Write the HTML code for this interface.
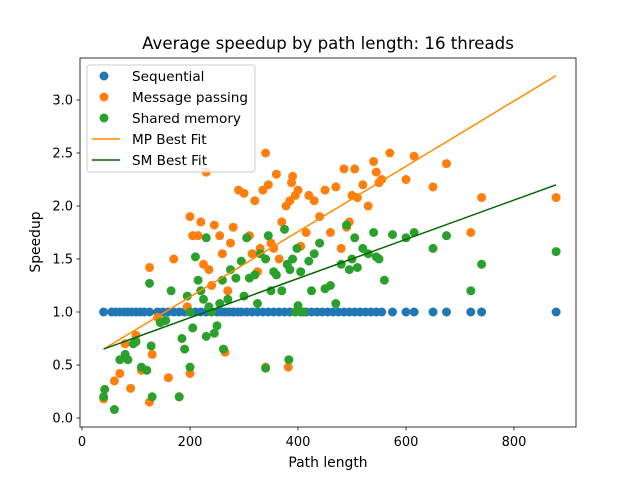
<!DOCTYPE html>
<html><head><meta charset="utf-8"><style>
body{margin:0;background:#fff;}
svg text{font-family:"DejaVu Sans","Liberation Sans",sans-serif;fill:#000;}
</style></head><body>
<svg id="chart" width="640" height="480" viewBox="0 0 640 480" xmlns="http://www.w3.org/2000/svg">
<rect width="640" height="480" fill="#fff"/>
<text x="328" y="49" font-size="16.6" text-anchor="middle">Average speedup by path length: 16 threads</text>
<g id="plot"></g>
<rect x="80" y="58" width="496" height="369" fill="none" stroke="#000" stroke-width="0.8"/>
<text x="328" y="467" font-size="13.9" text-anchor="middle">Path length</text>
<text x="0" y="0" font-size="13.9" text-anchor="middle" transform="translate(40,242) rotate(-90)">Speedup</text>
<g>
<rect x="87" y="65" width="168" height="107" rx="3" fill="#fff" fill-opacity="0.8" stroke="#ccc"/>
<circle cx="104" cy="76" r="4.5" fill="#1f77b4"/>
<text x="132" y="81" font-size="13.6">Sequential</text>
<circle cx="104" cy="97" r="4.5" fill="#ff7f0e"/>
<text x="132" y="102" font-size="13.6">Message passing</text>
<circle cx="104" cy="118" r="4.5" fill="#2ca02c"/>
<text x="132" y="123" font-size="13.6">Shared memory</text>
<line x1="92" y1="139" x2="120" y2="139" stroke="#ff8c00" stroke-width="1.5"/>
<text x="132" y="144" font-size="13.6">MP Best Fit</text>
<line x1="92" y1="160" x2="120" y2="160" stroke="#006400" stroke-width="1.5"/>
<text x="132" y="165" font-size="13.6">SM Best Fit</text>
</g>
</svg>
<script>
const xTicks=[0,200,400,600,800];
const yTicks=[0.0,0.5,1.0,1.5,2.0,2.5,3.0];
const seqX=[40,55,62,70,78,85,92,100,108,115,125,140,150,160,170,180,190,200,210,220,230,240,250,258,265,272,280,288,295,305,315,325,335,345,355,365,375,385,395,405,415,425,435,445,455,465,475,485,495,505,515,525,535,545,555,575,600,615,650,675,720,740,878];
const seqY=seqX.map(()=>1.0);
const mpX=[40,60,70,80,90,100,110,125,125,130,140,160,170,180,195,200,200,205,215,220,225,230,235,240,245,255,260,265,270,275,280,290,300,310,315,320,325,330,335,340,340,345,350,355,360,365,370,378,382,385,388,390,395,400,405,415,420,430,440,450,460,470,480,485,490,495,500,505,510,520,530,540,545,550,555,570,600,615,650,675,720,740,878];
const mpY=[0.18,0.35,0.42,0.7,0.28,0.78,0.45,1.42,0.15,0.6,0.95,0.38,1.5,0.2,1.05,0.42,1.9,1.72,1.72,1.85,1.45,2.32,1.4,1.25,1.82,1.72,1.55,0.62,1.2,1.65,1.8,2.15,2.12,1.72,1.55,2.05,1.38,1.6,2.15,2.5,0.48,2.2,1.65,1.6,2.3,1.5,1.85,2.0,0.48,2.05,2.22,2.28,2.1,2.15,1.62,1.75,2.1,2.05,1.9,2.15,1.75,2.18,1.6,2.35,1.8,1.85,2.1,2.35,2.08,2.2,2.0,2.42,2.32,2.22,2.25,2.5,2.25,2.47,2.18,2.4,1.75,2.08,2.08];
const smX=[40,42,60,70,80,85,95,100,110,120,125,128,130,145,155,165,180,185,190,195,200,200,205,210,215,220,225,230,230,235,240,245,250,255,260,262,270,275,285,295,300,305,310,320,325,330,340,340,345,350,355,360,370,375,380,383,385,390,395,398,400,405,410,420,425,430,440,450,460,470,480,490,495,500,505,510,520,530,540,545,550,560,575,600,615,650,675,720,740,878];
const smY=[0.2,0.27,0.08,0.55,0.6,0.55,0.7,0.72,0.48,0.45,1.27,0.68,0.2,0.9,0.92,1.2,0.2,0.75,0.65,1.15,1.0,0.48,0.85,1.52,1.3,1.2,1.12,0.77,1.7,1.05,1.0,0.8,0.87,1.08,1.3,0.65,1.12,1.4,1.32,1.48,1.15,1.7,1.32,1.35,1.08,1.55,1.5,0.47,1.72,1.2,1.38,1.35,1.2,1.78,1.45,0.55,1.4,1.5,1.0,1.6,1.06,1.38,1.0,1.48,1.2,1.55,1.65,1.22,1.25,1.08,1.45,1.82,1.4,1.5,1.7,1.42,1.6,1.55,1.75,1.52,1.5,1.3,1.73,1.7,1.75,1.6,1.72,1.2,1.45,1.57];
const mpFit=[0.003079,0.527];
const smFit=[0.00185,0.576];
const fitRange=[40,878];

const NS="http://www.w3.org/2000/svg";
const plot=document.getElementById('plot');
const sx=v=>82+v*0.54;
const sy=v=>418-v*106;
function mk(tag,attrs){const e=document.createElementNS(NS,tag);for(const k in attrs)e.setAttribute(k,attrs[k]);return e;}
xTicks.forEach(t=>{
  const l=mk('line',{x1:sx(t),x2:sx(t),y1:427,y2:430.5,stroke:'#000','stroke-width':0.8});
  
  
  plot.appendChild(l);
  const tx=mk('text',{x:sx(t),y:446,'font-size':13,'text-anchor':'middle'});
  tx.textContent=t;
  
  
  plot.appendChild(tx);
});
yTicks.forEach(t=>{
  const l=mk('line',{x1:76.5,x2:80,y1:sy(t),y2:sy(t),stroke:'#000','stroke-width':0.8});
  
  
  plot.appendChild(l);
  const tx=mk('text',{x:73,y:sy(t)+4.5,'font-size':13,'text-anchor':'end'});
  tx.textContent=t.toFixed(1);
  
  
  plot.appendChild(tx);
});
function scatter(xs,ys,color,name){
  xs.forEach((x,i)=>{
    const c=mk('circle',{cx:sx(x),cy:sy(ys[i]),r:4.5,fill:color});
    
    
    plot.appendChild(c);
  });
}
scatter(seqX,seqY,'#1f77b4','sequential-point');
scatter(mpX,mpY,'#ff7f0e','message-passing-point');
scatter(smX,smY,'#2ca02c','shared-memory-point');
function fit(f,color,name){
  const l=mk('line',{x1:sx(fitRange[0]),y1:sy(f[0]*fitRange[0]+f[1]),x2:sx(fitRange[1]),y2:sy(f[0]*fitRange[1]+f[1]),stroke:color,'stroke-width':1.5});
  
  
  plot.appendChild(l);
}
fit(mpFit,'#ff8c00','mp-best-fit-line');
fit(smFit,'#006400','sm-best-fit-line');
</script>
</body></html>
